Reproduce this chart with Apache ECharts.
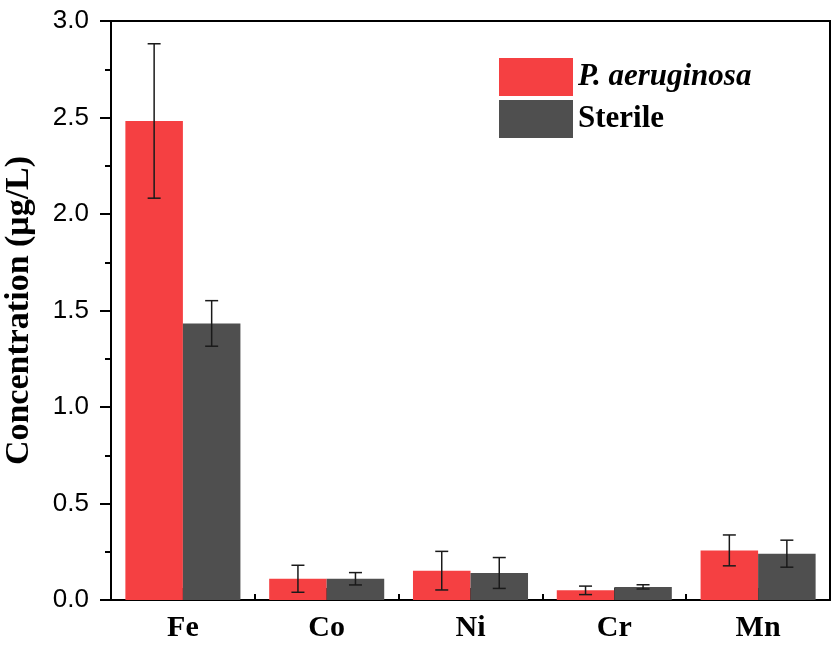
<!DOCTYPE html>
<html>
<head>
<meta charset="utf-8">
<script src="https://cdn.jsdelivr.net/npm/echarts@6/dist/echarts.min.js"></script>
<style>html,body{margin:0;padding:0;background:#fff}#c{width:839px;height:646px}</style>
</head>
<body>
<div id="c"></div>
<script>
var categories = ['Fe', 'Co', 'Ni', 'Cr', 'Mn'];
var seriesNames = ['P. aeruginosa', 'Sterile'];
var paeruginosaValues = [2.482, 0.110, 0.152, 0.050, 0.257];
var paeruginosaErrors = [0.400, 0.070, 0.100, 0.022, 0.080];
var sterileValues = [1.433, 0.110, 0.140, 0.068, 0.240];
var sterileErrors = [0.118, 0.032, 0.080, 0.011, 0.070];
var yTicks = [0, 0.5, 1.0, 1.5, 2.0, 2.5, 3.0];

var RED = '#F54042';
var GRAY = '#4F4F4F';

function errData(vals, errs) {
  return vals.map(function (v, i) { return [i, v - errs[i], v + errs[i]]; });
}

function makeErrRender(offsetFrac) {
  return function (params, api) {
    var idx = api.value(0);
    var band = api.size([1, 0])[0];
    var lo = api.coord([idx, api.value(1)]);
    var hi = api.coord([idx, api.value(2)]);
    var x = lo[0] + offsetFrac * band;
    var cap = 6.5;
    var style = { stroke: '#1a1a1a', lineWidth: 1.5, fill: null };
    return {
      type: 'group',
      children: [
        { type: 'line', shape: { x1: x, y1: hi[1], x2: x, y2: lo[1] }, style: style },
        { type: 'line', shape: { x1: x - cap, y1: hi[1], x2: x + cap, y2: hi[1] }, style: style },
        { type: 'line', shape: { x1: x - cap, y1: lo[1], x2: x + cap, y2: lo[1] }, style: style }
      ]
    };
  };
}

var chart = echarts.init(document.getElementById('c'), null, { renderer: 'canvas' });
chart.setOption({
  animation: false,
  backgroundColor: '#fff',
  grid: { left: 111, right: 9, top: 21, bottom: 46, show: true, borderColor: '#000', borderWidth: 2, backgroundColor: 'transparent', outerBoundsMode: 'none', containLabel: false },
  legend: {
    data: seriesNames,
    orient: 'vertical',
    left: 494,
    top: 53,
    itemWidth: 74,
    itemHeight: 38,
    itemGap: 4,
    icon: 'rect',
    formatter: function (name) {
      return name === 'P. aeruginosa' ? '{i|' + name + '}' : '{b|' + name + '}';
    },
    textStyle: {
      rich: {
        i: { fontFamily: 'Liberation Serif', fontWeight: 'bold', fontStyle: 'italic', fontSize: 31, color: '#000' },
        b: { fontFamily: 'Liberation Serif', fontWeight: 'bold', fontSize: 31, color: '#000' }
      }
    }
  },
  xAxis: [
    {
      type: 'category',
      data: categories,
      axisLine: { lineStyle: { color: '#000', width: 2 } },
      axisTick: { show: true, alignWithLabel: true, inside: true, length: 12, lineStyle: { color: '#000', width: 2 } },
      axisLabel: { fontFamily: 'Liberation Serif', fontWeight: 'bold', fontSize: 30, color: '#000', margin: 13 },
      splitLine: { show: false }
    },
    {
      type: 'category',
      data: categories,
      position: 'bottom',
      axisLine: { show: false },
      axisTick: { show: true, inside: true, length: 6, lineStyle: { color: '#000', width: 2 } },
      axisLabel: { show: false },
      splitLine: { show: false }
    }
  ],
  yAxis: {
    type: 'value',
    min: 0,
    max: 3,
    interval: 0.5,
    name: 'Concentration (μg/L)',
    nameLocation: 'middle',
    nameGap: 75,
    nameTextStyle: { fontFamily: 'Liberation Serif', fontWeight: 'bold', fontSize: 34, color: '#000' },
    axisLine: { show: true, lineStyle: { color: '#000', width: 2 } },
    axisTick: { show: true, inside: false, length: 11, lineStyle: { color: '#000', width: 2 } },
    minorTick: { show: true, splitNumber: 2, length: 6, lineStyle: { color: '#000', width: 2 } },
    axisLabel: {
      fontFamily: 'Liberation Sans', fontSize: 26, color: '#000', margin: 22,
      formatter: function (v) { return v.toFixed(1); }
    },
    splitLine: { show: false }
  },
  series: [
    {
      name: seriesNames[0], type: 'bar', data: paeruginosaValues,
      barGap: '0%', barCategoryGap: '20%',
      itemStyle: { color: RED }
    },
    {
      name: seriesNames[1], type: 'bar', data: sterileValues,
      barGap: '0%', barCategoryGap: '20%',
      itemStyle: { color: GRAY }
    },
    {
      name: 'err1', type: 'custom', data: errData(paeruginosaValues, paeruginosaErrors),
      renderItem: makeErrRender(-0.2), encode: { x: 0, y: [1, 2] }, z: 10
    },
    {
      name: 'err2', type: 'custom', data: errData(sterileValues, sterileErrors),
      renderItem: makeErrRender(0.2), encode: { x: 0, y: [1, 2] }, z: 10
    }
  ]
});
</script>
</body>
</html>
